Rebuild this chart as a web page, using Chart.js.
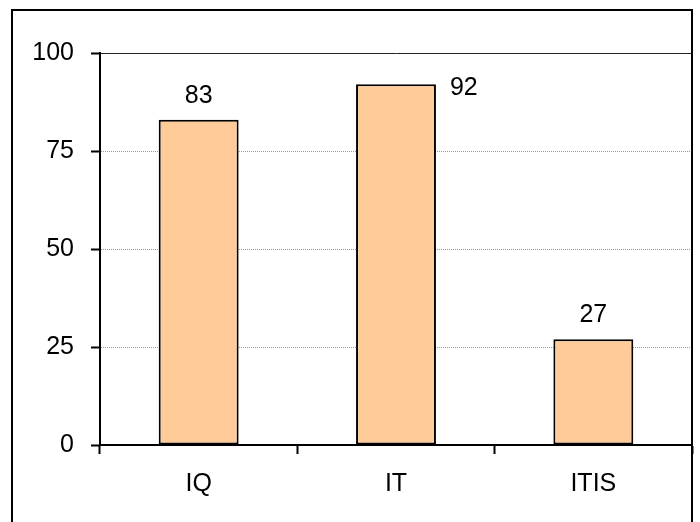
<!DOCTYPE html>
<html>
<head>
<meta charset="utf-8">
<script src="https://cdn.jsdelivr.net/npm/chart.js@4.4.1/dist/chart.umd.min.js"></script>
<style>
    body { margin: 0; background: #fff; }
    canvas { display: block; }
</style>
</head>
<body>
<canvas id="scoreChart" width="700" height="522"></canvas>
<script>
// data
const categories = ["IQ", "IT", "ITIS"];
const scores = [83, 92, 27];
const yTicks = [0, 25, 50, 75, 100];

const FONT = "'Liberation Sans', Arial, sans-serif";

// outer frame (bottom edge falls outside the picture)
const framePlugin = {
    id: "frame",
    afterDraw(chart) {
        const ctx = chart.ctx;
        const area = chart.chartArea;
        ctx.save();
        ctx.strokeStyle = "#000";
        ctx.lineWidth = 2;
        ctx.beginPath();
        ctx.moveTo(12, chart.height + 2);
        ctx.lineTo(12, 10);
        ctx.lineTo(area.right, 10);
        ctx.lineTo(area.right, chart.height + 2);
        ctx.stroke();
        ctx.restore();
    }
};

// value labels above bars, moved to the right when no room on top
const valueLabels = {
    id: "valueLabels",
    afterDatasetsDraw(chart) {
        const ctx = chart.ctx;
        const area = chart.chartArea;
        const meta = chart.getDatasetMeta(0);
        ctx.save();
        ctx.font = "25px " + FONT;
        ctx.fillStyle = "#000";
        ctx.textBaseline = "alphabetic";
        meta.data.forEach((bar, i) => {
            const text = String(chart.data.datasets[0].data[i]);
            const base = bar.y - 17;
            if (base - 20 < area.top) {
                ctx.textAlign = "left";
                ctx.fillText(text, bar.x + bar.width / 2 + 14, bar.y + 11);
            } else {
                ctx.textAlign = "center";
                ctx.fillText(text, bar.x, base);
            }
        });
        ctx.restore();
    }
};

new Chart(document.getElementById("scoreChart"), {
    type: "bar",
    data: {
        labels: categories,
        datasets: [
            {
                data: scores,
                backgroundColor: "#FFCC99",
                borderColor: "#000",
                borderWidth: 2,
                borderSkipped: false,
                barPercentage: 0.405,
                categoryPercentage: 1
            }
        ]
    },
    options: {
        responsive: false,
        animation: false,
        devicePixelRatio: 1,
        layout: {
            padding: { top: 53, right: 8, left: 0, bottom: 0 }
        },
        plugins: {
            legend: { display: false },
            tooltip: { enabled: false }
        },
        scales: {
            x: {
                afterFit(scale) { scale.height = 77; },
                grid: {
                    offset: true,
                    drawOnChartArea: false,
                    tickLength: 9,
                    tickColor: "#000",
                    tickWidth: 2
                },
                border: { color: "#000", width: 2 },
                ticks: {
                    color: "#000",
                    padding: 15,
                    font: { family: FONT, size: 25 }
                }
            },
            y: {
                min: 0,
                max: 100,
                afterFit(scale) { scale.width = 100; },
                afterBuildTicks(scale) {
                    scale.ticks = yTicks.map(v => ({ value: v }));
                },
                grid: {
                    color: ctx => ctx.tick && ctx.tick.value === 100 ? "#222" : "#999",
                    lineWidth: 1,
                    tickLength: 9,
                    tickColor: "#000",
                    tickWidth: 2,
                    tickBorderDash: []
                },
                border: {
                    color: "#000",
                    width: 2,
                    dash: ctx => ctx.tick && ctx.tick.value === 100 ? [] : [1, 1]
                },
                ticks: {
                    color: "#000",
                    padding: 17,
                    font: { family: FONT, size: 25 }
                }
            }
        }
    },
    plugins: [framePlugin, valueLabels]
});
</script>
</body>
</html>
